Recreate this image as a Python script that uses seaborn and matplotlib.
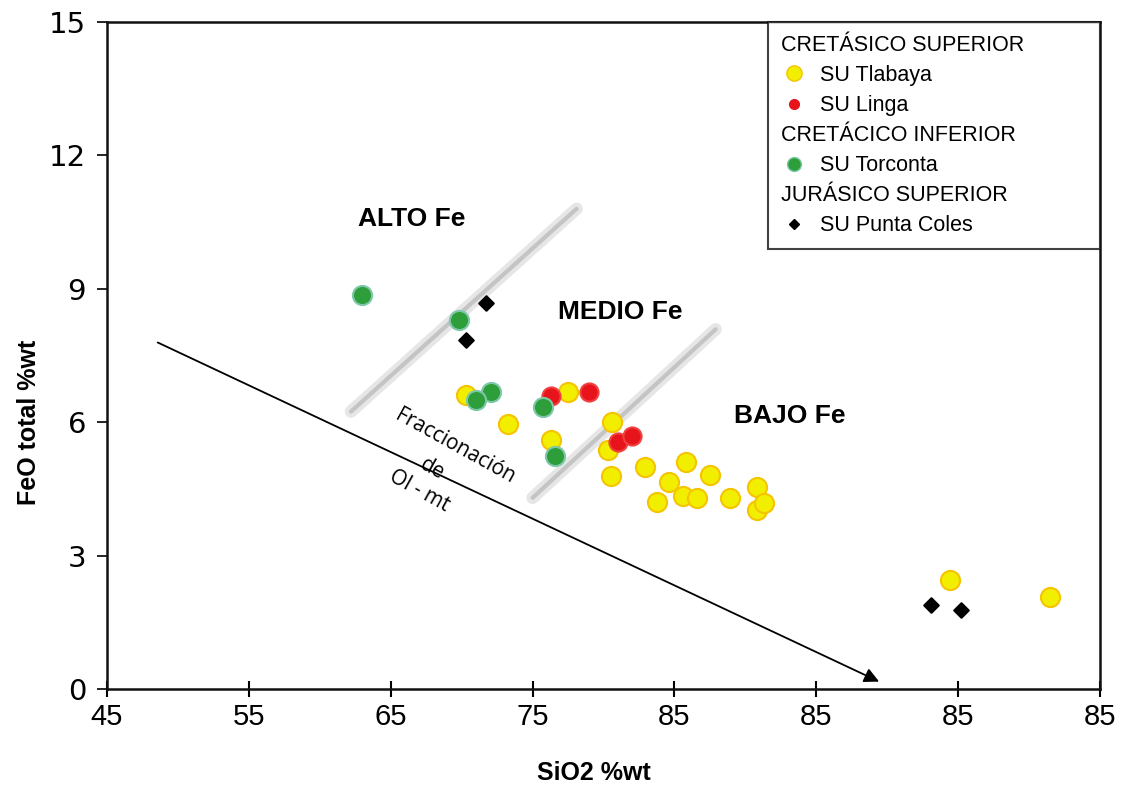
import numpy as np
import pandas as pd

import seaborn as sns
from matplotlib import pyplot as plt
from matplotlib.lines import Line2D

tlabaya_x = [70.3, 73.3, 76.3, 77.5, 80.6, 80.3, 80.5, 82.9, 85.8, 84.6, 87.5,
             83.8, 85.6, 86.6, 88.9, 90.8, 90.8, 91.3, 104.4, 111.5]
tlabaya_y = [6.62, 5.95, 5.61, 6.67, 6.01, 5.38, 4.78, 5.00, 5.11, 4.66, 4.82,
             4.21, 4.33, 4.30, 4.30, 4.55, 4.03, 4.19, 2.45, 2.07]
linga_x = [76.3, 79.0, 81.0, 82.0]
linga_y = [6.58, 6.69, 5.56, 5.68]
torconta_x = [63.0, 69.8, 72.1, 71.0, 75.7, 76.6]
torconta_y = [8.85, 8.29, 6.69, 6.51, 6.35, 5.23]
coles_x = [71.7, 70.3, 103.1, 105.2]
coles_y = [8.69, 7.86, 1.89, 1.78]

x_ticks = [45, 55, 65, 75, 85, 95, 105, 115]
x_ticklabels = ["45", "55", "65", "75", "85", "85", "85", "85"]
y_ticks = [0, 3, 6, 9, 12, 15]

sns.set_style("ticks")
plt.rcParams["font.family"] = ["Liberation Sans", "DejaVu Sans"]
plt.rcParams["text.color"] = "black"
plt.rcParams["axes.labelcolor"] = "black"

fig = plt.figure(figsize=(11.33, 7.87), dpi=100)
ax = fig.add_axes([0.0944, 0.1245, 0.8766, 0.8475])

# gray divider bands
for (x0, y0, x1, y1) in [(62.2, 6.24, 78.1, 10.8), (75.0, 4.3, 87.9, 8.09)]:
    ax.plot([x0, x1], [y0, y1], color="#e6e6e6", lw=9, solid_capstyle="round", zorder=1)
    ax.plot([x0, x1], [y0, y1], color="#c4c4c4", lw=3, solid_capstyle="round", zorder=1)

# fractionation arrow
ax.annotate("", xy=(99.6, 0.14), xytext=(48.4, 7.82),
            arrowprops=dict(arrowstyle="-|>", color="black", lw=1.3,
                            mutation_scale=22), zorder=2)

groups = [
    ("SU Tlabaya", tlabaya_x, tlabaya_y, "o", "#f2ee00", "#f5c400", 190),
    ("SU Linga", linga_x, linga_y, "o", "#e8141c", "#f04040", 170),
    ("SU Torconta", torconta_x, torconta_y, "o", "#2e9e3a", "#7cc8a8", 190),
    ("SU Punta Coles", coles_x, coles_y, "D", "black", "black", 55),
]
for name, xs, ys, mk, fc, ec, s in groups:
    df = pd.DataFrame({"SiO2": xs, "FeO": ys})
    sns.scatterplot(data=df, x="SiO2", y="FeO", marker=mk, color=fc,
                    edgecolor=ec, linewidth=1.5, s=s, ax=ax, zorder=3)

# field labels
ax.text(66.5, 10.56, "ALTO Fe", fontsize=19, fontweight="bold", ha="center", va="center")
ax.text(81.2, 8.47, "MEDIO Fe", fontsize=19, fontweight="bold", ha="center", va="center")
ax.text(93.1, 6.15, "BAJO Fe", fontsize=19, fontweight="bold", ha="center", va="center")
ax.text(69.5, 5.45, "Fraccionación", fontsize=15, rotation=-29, ha="center", va="center",
        family=["Open Sans", "DejaVu Sans"])
ax.text(67.9, 4.95, "de", fontsize=15, rotation=-29, ha="center", va="center",
        family=["Open Sans", "DejaVu Sans"])
ax.text(67.0, 4.45, "Ol - mt", fontsize=15, rotation=-29, ha="center", va="center",
        family=["Open Sans", "DejaVu Sans"])

ax.set_xlim(45, 115)
ax.set_ylim(0, 15)
ax.set_xticks(x_ticks)
ax.set_xticklabels(x_ticklabels, fontsize=21, family=["Liberation Sans Narrow", "Liberation Sans"])
ax.set_yticks(y_ticks)
ax.set_yticklabels([str(v) for v in y_ticks], fontsize=21, family=["DejaVu Sans"])
ax.tick_params(axis="x", direction="inout", length=12, width=1.5, pad=4, colors="black")
ax.tick_params(axis="y", direction="out", length=7, width=1.2, pad=8, colors="black")
for sp in ax.spines.values():
    sp.set_linewidth(1.8)
    sp.set_color("#111111")

ax.set_xlabel("SiO2 %wt", fontsize=18, fontweight="bold", va="center", color="black")
ax.set_ylabel("FeO total %wt", fontsize=18, fontweight="bold", va="center", color="black")
ax.xaxis.set_label_coords(0.49, -0.126)
ax.yaxis.set_label_coords(-0.078, 0.40)

# legend with group headers
blank = Line2D([], [], linestyle="none")
handles = [
    blank,
    Line2D([], [], marker="o", ls="none", color="#f2ee00", mec="#f5c400", ms=11),
    Line2D([], [], marker="o", ls="none", color="#e8141c", ms=7),
    blank,
    Line2D([], [], marker="o", ls="none", color="#2e9e3a", mec="#7cc8a8", ms=10),
    blank,
    Line2D([], [], marker="D", ls="none", color="black", ms=5),
]
labels = ["CRETÁSICO SUPERIOR", "SU Tlabaya", "SU Linga", "CRETÁCICO INFERIOR",
          "SU Torconta", "JURÁSICO SUPERIOR", "SU Punta Coles"]
leg = ax.legend(handles, labels, loc="upper left", mode="expand",
                bbox_to_anchor=(0.6657, 0.0, 0.3343, 1.0),
                fontsize=15.5, frameon=True, fancybox=False, edgecolor="#111111",
                handlelength=1.2, handletextpad=0.6, labelspacing=0.42,
                borderpad=0.6, borderaxespad=0.0)
leg.get_frame().set_linewidth(1.5)
# header rows: drop the handle box so the text starts at the left edge
rows = leg._legend_handle_box.get_children()[0].get_children()
for i in (0, 3, 5):
    rows[i].get_children()[0].set_width(0)
    rows[i].sep = 0

fig.savefig("out.png", dpi=100, facecolor="white")
